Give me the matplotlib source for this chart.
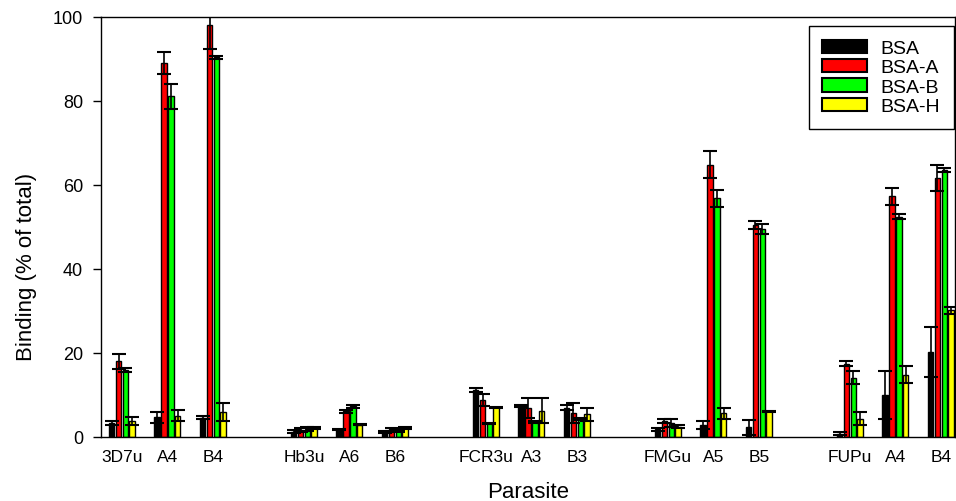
import matplotlib
matplotlib.use("Agg")
import matplotlib.pyplot as plt
import numpy as np

plt.rcParams['font.family'] = ['Liberation Sans', 'DejaVu Sans']

# Parasite lines and their selected sublines
parasites = ['3D7u', 'A4', 'B4', 'Hb3u', 'A6', 'B6', 'FCR3u', 'A3', 'B3',
             'FMGu', 'A5', 'B5', 'FUPu', 'A4', 'B4']

# Binding (% of total) with error for each BSA treatment
bsa = [3.3, 4.7, 4.6, 1.3, 1.7, 1.2, 11.2, 7.4, 7.0, 1.8, 2.9, 2.3, 0.8, 10.0, 20.3]
bsa_err = [0.5, 1.3, 0.4, 0.3, 0.1, 0.3, 0.5, 0.3, 0.6, 0.3, 0.9, 1.8, 0.4, 5.6, 5.9]
bsa_a = [18.0, 89.0, 98.1, 1.7, 6.1, 1.8, 8.8, 6.9, 5.8, 3.8, 64.8, 50.5, 17.5, 57.3, 61.6]
bsa_a_err = [1.7, 2.6, 5.7, 0.5, 0.3, 0.4, 1.5, 2.4, 2.4, 0.5, 3.2, 1.0, 0.5, 2.1, 3.1]
bsa_b = [16.0, 81.1, 90.4, 2.0, 7.3, 1.5, 3.3, 3.5, 4.3, 3.4, 56.8, 49.5, 14.1, 52.5, 63.6]
bsa_b_err = [0.5, 3.0, 0.4, 0.5, 0.4, 0.2, 0.1, 0.2, 0.3, 0.9, 2.0, 1.2, 1.5, 0.5, 0.4]
bsa_h = [3.8, 5.1, 6.0, 2.1, 2.9, 2.1, 7.1, 6.3, 5.4, 2.5, 5.6, 6.1, 4.4, 14.8, 30.2]
bsa_h_err = [1.0, 1.3, 2.1, 0.3, 0.1, 0.2, 0.1, 2.9, 1.6, 0.4, 1.4, 0.1, 1.5, 2.0, 0.8]

series = [
    ('BSA', bsa, bsa_err, '#000000'),
    ('BSA-A', bsa_a, bsa_a_err, '#ff0000'),
    ('BSA-B', bsa_b, bsa_b_err, '#00ff00'),
    ('BSA-H', bsa_h, bsa_h_err, '#ffff00'),
]

# three sublines per parasite, one empty slot between parasites
x = np.array([g * 4 + i for g in range(5) for i in range(3)], dtype=float)
width = 0.12
step = 0.15

fig = plt.figure(figsize=(9.56, 5.02), dpi=100)
ax = fig.add_axes([101 / 956, 1 - 438 / 502, 854 / 956, 420 / 502])

for k, (name, vals, errs, col) in enumerate(series):
    xs = x + (k - 1.5) * step
    ax.bar(xs, vals, width, color=col, edgecolor='black', linewidth=1.0,
           label=name, zorder=2)
    ax.errorbar(xs, vals, yerr=errs, fmt='none', ecolor='black',
                elinewidth=1.2, capsize=5, capthick=1.5, zorder=3)

ax.set_xlim(-0.46, 18.31)
ax.set_ylim(0, 100)
ax.set_yticks([0, 20, 40, 60, 80, 100])
ax.set_xticks(x)
ax.set_xticklabels(parasites)
ax.tick_params(axis='x', length=0, pad=9, labelsize=12.5)
ax.tick_params(axis='y', direction='out', length=6, width=1, pad=7, labelsize=13)
for sp in ax.spines.values():
    sp.set_linewidth(1.0)

ax.set_xlabel('Parasite', fontsize=16, labelpad=12)
ax.set_ylabel('Binding (% of total)', fontsize=16)
ax.yaxis.set_label_coords(-0.075, 0.407)

leg = ax.legend(loc='upper right', bbox_to_anchor=(954 / 956, 1 - 27 / 502),
                bbox_transform=fig.transFigure, borderaxespad=0,
                fancybox=False, framealpha=1, edgecolor='black',
                fontsize=14, handlelength=2.3, handleheight=0.67,
                handletextpad=0.7, labelspacing=0.1, borderpad=0.7)
leg.get_frame().set_linewidth(1.0)
for p in leg.get_patches():
    p.set_linewidth(1.5)

fig.savefig('out.png', dpi=100)
